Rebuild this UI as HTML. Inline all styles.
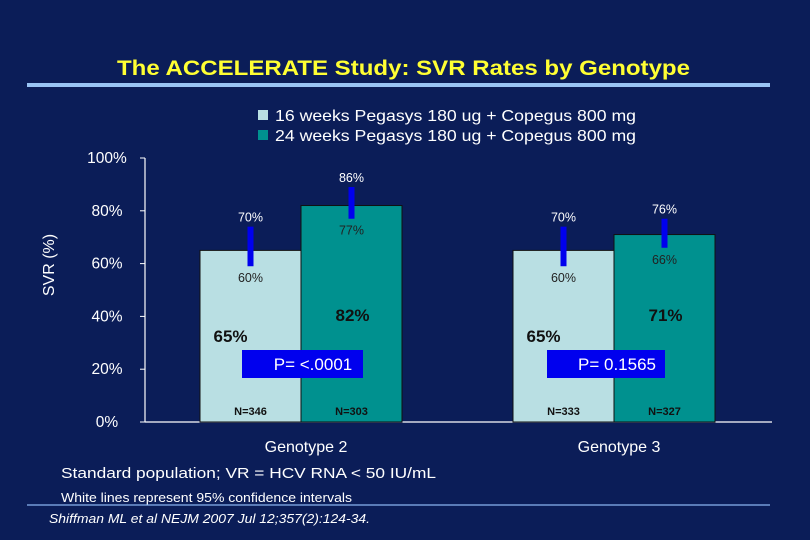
<!DOCTYPE html>
<html><head><meta charset="utf-8"><style>
body{margin:0;background:#0b1d58;}
svg{display:block;font-family:"Liberation Sans",Arial,sans-serif;}
</style></head><body>
<svg id="c" width="810" height="540" viewBox="0 0 810 540">
<rect width="810" height="540" fill="#0b1d58"/>
<text x="117" y="75" fill="#ffff33" font-size="21" font-weight="bold" textLength="573" lengthAdjust="spacingAndGlyphs">The ACCELERATE Study: SVR Rates by Genotype</text>
<rect x="27" y="83" width="743" height="4" fill="#99c4f5"/>
<g>
<rect x="258" y="110" width="10" height="10" fill="#b9dfe3"/>
<text x="275" y="121" fill="#fff" font-size="16" textLength="361" lengthAdjust="spacingAndGlyphs">16 weeks Pegasys 180 ug + Copegus 800 mg</text>
<rect x="258" y="130" width="10" height="10" fill="#00918f"/>
<text x="275" y="141" fill="#fff" font-size="16" textLength="361" lengthAdjust="spacingAndGlyphs">24 weeks Pegasys 180 ug + Copegus 800 mg</text>
</g>
<text transform="translate(54,265) rotate(-90)" fill="#fff" font-size="16" text-anchor="middle">SVR (%)</text>
<g id="plot"></g>
<text x="61" y="478" fill="#fff" font-size="15" textLength="375" lengthAdjust="spacingAndGlyphs">Standard population; VR = HCV RNA &lt; 50 IU/mL</text>
<text x="61" y="502" fill="#fff" font-size="12.5" textLength="291" lengthAdjust="spacingAndGlyphs">White lines represent 95% confidence intervals</text>
<line x1="27" y1="505" x2="770" y2="505" stroke="#8ab4f0" stroke-width="1.2"/>
<text x="49" y="523" fill="#fff" font-size="12.5" font-style="italic" textLength="321" lengthAdjust="spacingAndGlyphs">Shiffman ML et al NEJM 2007 Jul 12;357(2):124-34.</text>
</svg>
<script>
const categories=["Genotype 2","Genotype 3"];
const svr16=[65,65];
const svr24=[82,71];
const ci16Low=[59,59];
const ci16High=[74,74];
const ci24Low=[77,66];
const ci24High=[89,77];
const ci16LowLabel=["60%","60%"];
const ci16HighLabel=["70%","70%"];
const ci24LowLabel=["77%","66%"];
const ci24HighLabel=["86%","76%"];
const nLabels16=["N=346","N=333"];
const nLabels24=["N=303","N=327"];
const pLabels=["P= <.0001","P= 0.1565"];
const yTicks=[0,20,40,60,80,100];

const NS="http://www.w3.org/2000/svg";
const g=document.getElementById("plot");
const y0=422,y100=158,xL=145,xR=772;
const y=v=>y0-(y0-y100)*v/100;
const groupX=i=>[200,513][i];
const bw=101;
function mk(t,a,txt){const e=document.createElementNS(NS,t);for(const k in a)e.setAttribute(k,a[k]);if(txt!==undefined)e.textContent=txt;g.appendChild(e);return e;}

let ax=mk("line",{x1:xL,y1:y100,x2:xL,y2:y0,stroke:"#fff","stroke-width":1.2});


let bx=mk("line",{x1:xL,y1:y0,x2:xR,y2:y0,stroke:"#fff","stroke-width":1.2});


yTicks.forEach(t=>{
 let l=mk("line",{x1:xL-5,y1:y(t),x2:xL,y2:y(t),stroke:"#fff"});
 
 
 let tx=mk("text",{x:107,y:y(t)+5,fill:"#fff","font-size":15.5,"text-anchor":"middle"},t+"%");
 
 
});
[0,1].forEach(i=>{
 const x1=groupX(i),x2=x1+bw,mid1=x1+bw/2,mid2=x2+bw/2;
 let b1=mk("rect",{x:x1,y:y(svr16[i]),width:bw,height:y0-y(svr16[i]),fill:"#b9dfe3",stroke:"#111","stroke-width":1});
 
 
 let b2=mk("rect",{x:x2,y:y(svr24[i]),width:bw,height:y0-y(svr24[i]),fill:"#00918f",stroke:"#111","stroke-width":1});
 
 
 let e1=mk("rect",{x:mid1-3,y:y(ci16High[i]),width:6,height:y(ci16Low[i])-y(ci16High[i]),fill:"#0000ee"});
 
 
 let e2=mk("rect",{x:mid2-3,y:y(ci24High[i]),width:6,height:y(ci24Low[i])-y(ci24High[i]),fill:"#0000ee"});
 
 
 const lab=(x,yy,t,fill,fs,fw,name)=>{let e=mk("text",{x:x,y:yy,fill:fill,"font-size":fs,"font-weight":fw,"text-anchor":"middle"},t);return e;};
 lab(mid1,y(ci16High[i])-5,ci16HighLabel[i],"#fff",12.5,"normal","ci-high-label");
 lab(mid1,y(ci16Low[i])+16,ci16LowLabel[i],"#222",12.5,"normal","ci-low-label");
 lab(mid2,y(ci24High[i])-5,ci24HighLabel[i],"#fff",12.5,"normal","ci-high-label");
 lab(mid2,y(ci24Low[i])+16,ci24LowLabel[i],"#222",12.5,"normal","ci-low-label");
 lab(mid1-20,y0-80,svr16[i]+"%","#111",17,"bold","value-label-16wk");
 lab(mid2+1,y0-101,svr24[i]+"%","#111",17,"bold","value-label-24wk");
 let pb=mk("rect",{x:x1+[42,34][i],y:350,width:[121,118][i],height:28,fill:"#0000ee"});
 
 
 lab(x1+[42,34][i]+[71,70][i],370,pLabels[i],"#fff",17,"normal","p-value-label");
 lab(mid1,415,nLabels16[i],"#111",11,"bold","n-label-16wk");
 lab(mid2,415,nLabels24[i],"#111",11,"bold","n-label-24wk");
 lab(x2+5,452,categories[i],"#fff",16,"normal","x-category-label");
});
</script>
</body></html>
